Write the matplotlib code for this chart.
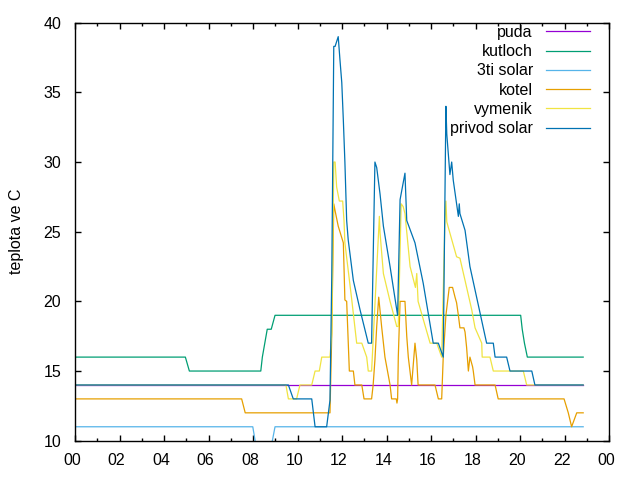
import matplotlib
matplotlib.use("Agg")
import matplotlib.pyplot as plt
import matplotlib.transforms as mtransforms
from matplotlib.ticker import MultipleLocator

plt.rcParams['font.family'] = ['Liberation Sans', 'DejaVu Sans']
plt.rcParams['font.size'] = 11.5

# data: time in hours of day, temperature in C
puda_t = [0, 22.84]
puda_v = [14, 14]

kutloch_t = [0, 4.96, 5.14, 8.35, 8.42, 8.53, 8.64, 8.82, 8.99, 20.03, 20.1, 20.2, 20.33, 22.84]
kutloch_v = [16, 16, 15, 15, 16, 17, 18, 18, 19, 19, 18, 17, 16, 16]

solar3_t = [0, 7.99, 8.2, 8.75, 8.99, 22.84]
solar3_v = [11, 11, 9, 9, 11, 11]

kotel_t = [0, 7.49, 7.65, 11.46, 11.54, 11.63, 11.69, 11.83, 12.06, 12.13, 12.21, 12.33,
           12.51, 12.58, 12.89, 12.99, 13.33, 13.4, 13.48, 13.56, 13.65, 13.78, 13.93,
           14.16, 14.23, 14.44, 14.47, 14.5, 14.53, 14.61, 14.83, 14.91, 14.98, 15.13,
           15.28, 15.36, 15.42, 16.18, 16.33, 16.48, 16.55, 16.67, 16.82, 16.97, 17.08,
           17.15, 17.23, 17.3, 17.48, 17.53, 17.6, 17.68, 17.75, 17.87, 17.9, 17.98,
           18.88, 19.02, 21.98, 22.17, 22.32, 22.55, 22.84]
kotel_v = [13, 13, 12, 12, 17.7, 27, 26.5, 25.4, 24.2, 20.1, 20, 15,
           15, 14, 14, 13, 13, 14, 15.8, 18.2, 20.3, 18.2, 16,
           14, 13, 13, 12.7, 13, 16, 20, 20, 17.5, 16, 14,
           17, 15.8, 14, 14, 13, 13, 16, 19, 21, 21, 20.3,
           19.9, 19, 18.1, 18.1, 17.8, 16.7, 15, 16, 15.3, 15, 14,
           14, 13, 13, 12, 11, 12, 12]

vymenik_t = [0, 9.48, 9.59, 9.96, 10.11, 10.64, 10.79, 10.98, 11.09, 11.46, 11.54, 11.63,
             11.69, 11.76, 11.88, 12.03, 12.09, 12.13, 12.44, 12.66, 12.89, 13.11, 13.18,
             13.33, 13.68, 13.71, 13.86, 14.16, 14.46, 14.53, 14.66, 14.75, 14.83, 15.06,
             15.3, 15.36, 15.42, 15.96, 16.26, 16.48, 16.63, 16.67, 16.71, 16.85, 17.15,
             17.3, 17.53, 17.83, 17.98, 18.28, 18.3, 18.65, 18.8, 20.15, 20.3, 22.84]
vymenik_v = [14, 14, 13, 13, 14, 14, 15, 15, 16, 16, 17.7, 30,
             30, 28.2, 27.2, 27.2, 25.8, 24.2, 20.1, 17, 17, 16, 15,
             15, 26.1, 24.9, 22, 20, 18.2, 18.2, 27, 26.8, 26.3, 22.5,
             21, 22, 20, 17, 17, 16, 26, 27.2, 25.7, 24.9, 23.2,
             23.1, 21.5, 19.4, 18.1, 17, 16, 16, 15, 15, 14, 14]

privod_t = [0, 9.59, 9.81, 10.64, 10.79, 11.31, 11.46, 11.54, 11.63, 11.69, 11.83, 11.91,
            11.99, 12.06, 12.13, 12.21, 12.28, 12.51, 12.81, 13.18, 13.33, 13.48, 13.56,
            13.71, 13.86, 14.16, 14.46, 14.5, 14.61, 14.83, 14.91, 14.98, 15.28, 15.65,
            16.1, 16.33, 16.55, 16.67, 16.71, 16.85, 16.93, 17.0, 17.23, 17.27, 17.3,
            17.53, 17.75, 17.9, 18.05, 18.5, 18.8, 18.88, 19.4, 19.55, 20.53, 20.67, 22.84]
privod_v = [14, 14, 13, 13, 11, 11, 12.9, 21.8, 38.3, 38.3, 39, 37.3,
            35.7, 33, 30, 25.8, 24.4, 21.5, 19.4, 17, 17, 30, 29.6,
            27.7, 25.4, 22.5, 19.4, 19, 27.3, 29.2, 25.8, 25.5, 24.2, 21.3,
            17, 17, 16, 34, 32, 29.1, 30, 28.7, 26.1, 27, 26.3,
            25.1, 22.5, 21.4, 20.3, 17, 17, 16, 16, 15, 15, 14, 14]

series = [
    ("puda", puda_t, puda_v, "#9400d3"),
    ("kutloch", kutloch_t, kutloch_v, "#009e73"),
    ("3ti solar", solar3_t, solar3_v, "#56b4e9"),
    ("kotel", kotel_t, kotel_v, "#e69f00"),
    ("vymenik", vymenik_t, vymenik_v, "#f0e442"),
    ("privod solar", privod_t, privod_v, "#0072b2"),
]

x_ticks = [0, 2, 4, 6, 8, 10, 12, 14, 16, 18, 20, 22, 24]
x_labels = ["00", "02", "04", "06", "08", "10", "12", "14", "16", "18", "20", "22", "00"]

fig = plt.figure(figsize=(6.4, 4.8), dpi=100)
ax = fig.add_axes([75 / 640, 1 - 440.7 / 480, 534 / 640, 418 / 480])

for name, t, v, c in series:
    ax.plot(t, v, color=c, lw=0.9, label=name)

ax.set_xlim(0, 24)
ax.set_ylim(10, 40)
ax.set_xticks(x_ticks)
ax.set_xticklabels(x_labels)
ax.xaxis.set_minor_locator(MultipleLocator(1))
ax.set_yticks([10, 15, 20, 25, 30, 35, 40])
ax.tick_params(which='both', direction='in', top=True, right=True, width=1)
ax.tick_params(which='major', length=4.5)
ax.tick_params(which='minor', length=2.2)
ax.tick_params(axis='x', pad=9)
ax.tick_params(axis='y', pad=10)
for s in ax.spines.values():
    s.set_linewidth(1)

# gnuplot puts the hour labels a few px left of their ticks
shift = mtransforms.ScaledTranslation(-3 / 100, 0, fig.dpi_scale_trans)
for lbl in ax.get_xticklabels():
    lbl.set_transform(lbl.get_transform() + shift)

ax.set_ylabel("teplota ve C")
ax.yaxis.set_label_coords(-0.095, 0.5)

ax.legend(loc='upper right', bbox_to_anchor=(0.965, 0.995), frameon=False,
          markerfirst=False, handlelength=2.8, handletextpad=0.8,
          labelspacing=0.27, borderpad=0, borderaxespad=0)

fig.savefig("out.png", dpi=100)
